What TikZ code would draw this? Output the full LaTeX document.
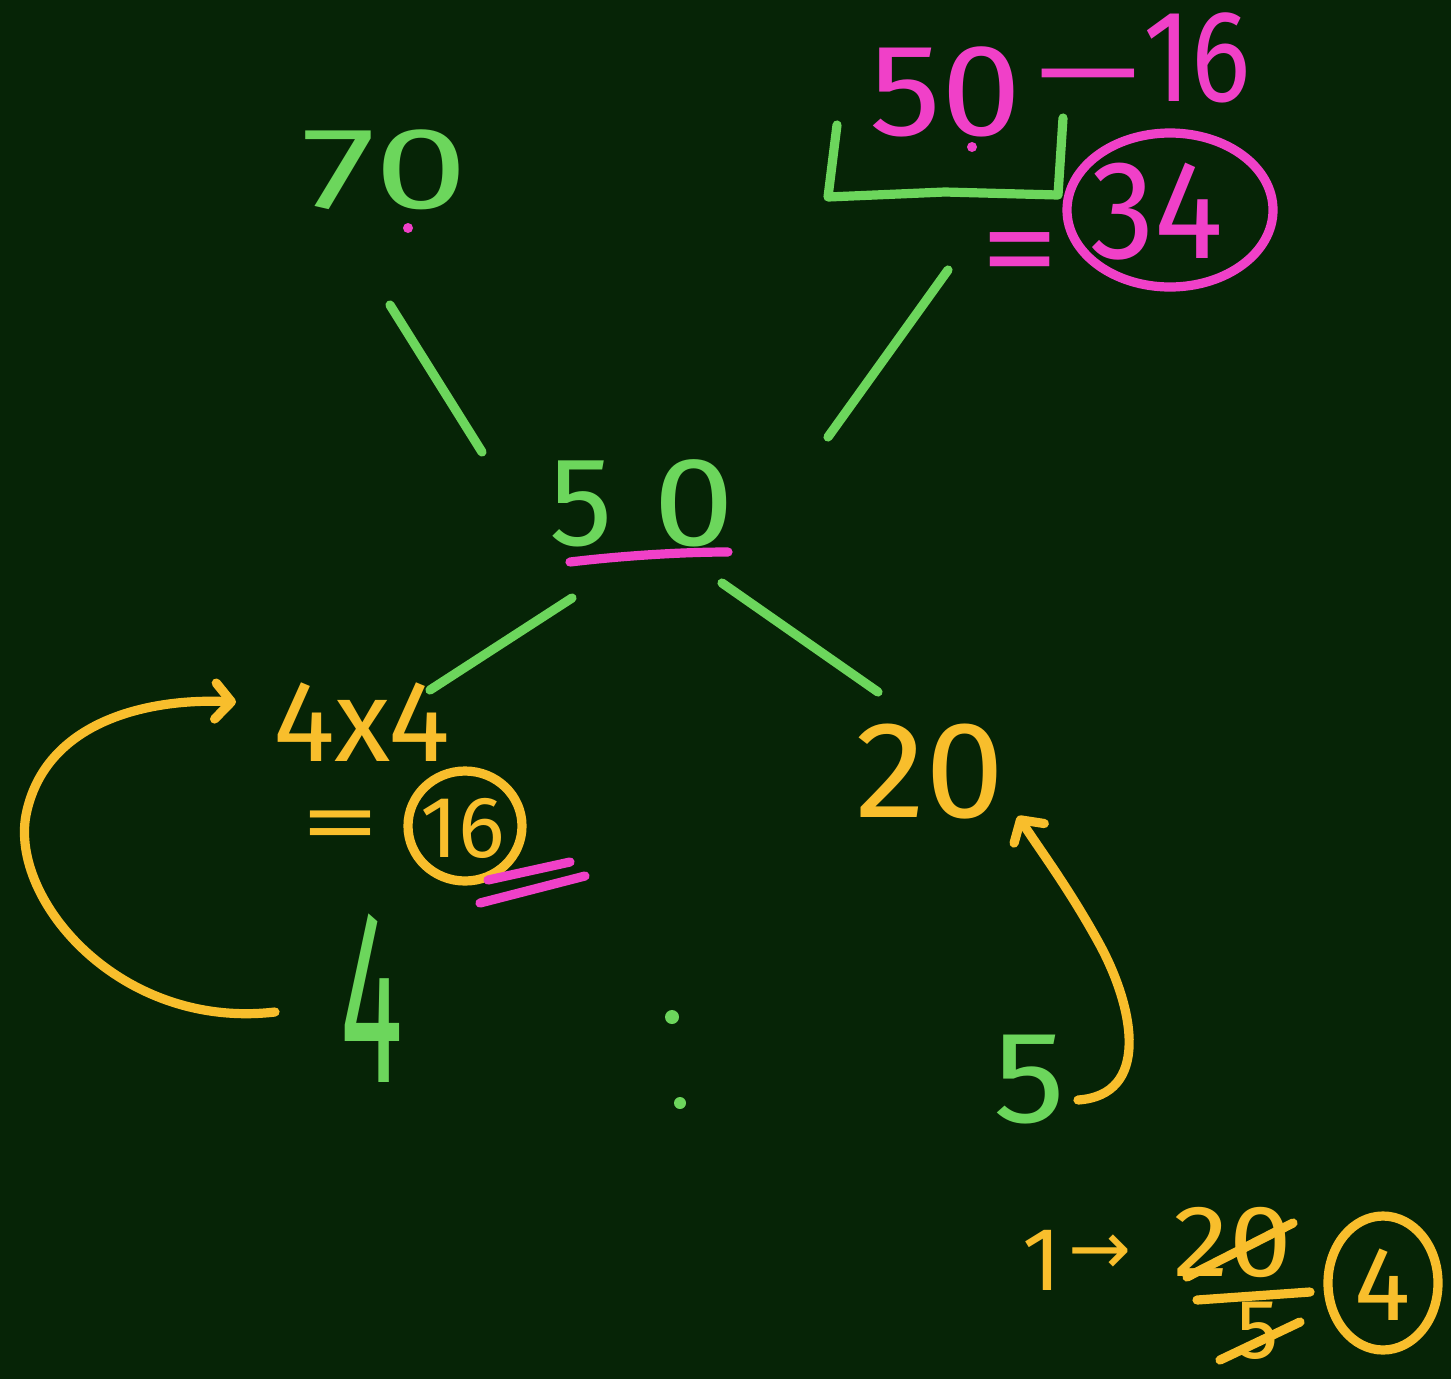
\documentclass[tikz,border=0pt]{standalone}
\usepackage{fontspec}
\setmainfont{Fira Sans}
\newfontfamily\dvfont{DejaVu Sans}
\usetikzlibrary{arrows.meta}
\definecolor{bg}{RGB}{6,36,6}
\definecolor{chgreen}{RGB}{108,214,92}
\definecolor{chpink}{RGB}{240,64,200}
\definecolor{chyellow}{RGB}{248,190,44}
\newcommand\fsz[1]{\fontsize{#1}{#1}\selectfont}
\begin{document}
\begin{tikzpicture}[x=0.5mm,y=-0.5mm,
  gline/.style={draw=chgreen, line width=4.6mm, line cap=round, line join=round},
  pline/.style={draw=chpink, line width=4.6mm, line cap=round, line join=round},
  yline/.style={draw=chyellow, line width=4.6mm, line cap=round, line join=round},
  lbl/.style={inner sep=0pt, outer sep=0pt},
  gtxt/.style={lbl, text=chgreen},
  ptxt/.style={lbl, text=chpink},
  ytxt/.style={lbl, text=chyellow},
  barb/.style={-{Straight Barb[length=8mm, width=18mm, round]}}
]
\fill[bg] (0,0) rectangle (1451,1379);
\useasboundingbox (0,0) rectangle (1451,1379);

% top left
\node[gtxt, font=\fsz{165}] (n70) at (385,170) {\scalebox{1.45}[1]{70}};
\fill[chpink] (408,228) circle (5);

% top right
\node[ptxt, font=\fsz{186}] (n50r) at (946,92) {\scalebox{1.1}[1]{50}};
\node[ptxt, font=\fsz{150}] (nminus) at (1088,88) {\scalebox{1.4}[1]{\dvfont −}};
\node[ptxt, font=\fsz{186}] (n16) at (1197,58) {\scalebox{0.85}[1]{16}};
\draw[gline] (837,125) -- (828,197) -- (945,192) -- (1058,195) -- (1063,118);
\fill[chpink] (972,147) circle (5);
\node[ptxt, font=\fsz{150}] (neqp) at (1020,262) {\scalebox{1.5}[1.2]{=}};
\node[ptxt, font=\fsz{200}] (n34) at (1157,212) {\scalebox{0.92}[1]{34}};
\draw[pline] (1170,210) ellipse [x radius=103, y radius=77];

% centre
\node[gtxt, font=\fsz{180}] (n50) at (642,503) {5\kern20mm \scalebox{1.15}[1]{0}};
\draw[pline] (570,562) .. controls (620,556) and (680,552) .. (728,552);

% connectors
\coordinate (c70s) at (390,305);
\coordinate (c50nw) at (482,452);
\coordinate (c50ne) at (828,437);
\coordinate (c34s) at (948,270);
\coordinate (c50sw) at (572,598);
\coordinate (c4x4) at (430,690);
\coordinate (c50se) at (722,583);
\coordinate (c20) at (878,692);
\draw[gline] (c70s) -- (c50nw);
\draw[gline] (c34s) -- (c50ne);
\draw[gline] (c50sw) -- (c4x4);
\draw[gline] (c50se) -- (c20);

% lower left
\node[ytxt, font=\fsz{165}] (n4x4) at (362,722) {4x4};
\node[ytxt, font=\fsz{130}] (neqy) at (340,832) {\scalebox{1.75}[1]{=}};
\node[ytxt, font=\fsz{124}] (n16b) at (463,828) {16};
\draw[yline] (465,826) ellipse [x radius=57, y radius=55];
\draw[pline] (488,880) -- (570,862);
\draw[pline] (480,903) -- (585,876);
\node[gtxt, font=\fsz{186}] (n4) at (372,998) {\scalebox{0.9}[1.9]{4}};
\coordinate (loopstart) at (275,1012);
\coordinate (loopend) at (236,702);
\draw[yline, barb] (loopstart) .. controls (120,1030) and (10,900) .. (26,815)
  .. controls (45,720) and (150,698) .. (loopend);

% colon
\fill[chgreen] (672,1017) circle (7);
\fill[chgreen] (680,1103) circle (6);

% lower right
\node[ytxt, font=\fsz{196}] (n20) at (930,772) {\scalebox{1.03}[1]{20}};
\node[gtxt, font=\fsz{186}] (n5) at (1030,1080) {\scalebox{1.1}[1]{5}};
\coordinate (arrstart) at (1078,1100);
\coordinate (arrend) at (1018,816);
\draw[yline, barb] (arrstart) .. controls (1150,1095) and (1135,1010) .. (1100,945)
  .. controls (1070,890) and (1040,850) .. (arrend);

% bottom right
\node[ytxt, font=\fsz{128}] (n1) at (1042,1260) {1};
\node[ytxt, font=\fsz{107}] (narr) at (1100,1255) {\dvfont →};
\node[ytxt, font=\fsz{145}] (n20s) at (1233,1242) {\scalebox{1.1}[1]{20}};
\draw[yline] (1187,1277) -- (1293,1223);
\draw[yline] (1197,1300) -- (1310,1292);
\node[ytxt, font=\fsz{120}] (n5s) at (1258,1331) {5};
\draw[yline] (1220,1360) -- (1300,1322);
\node[ytxt, font=\fsz{150}] (n4c) at (1383,1285) {4};
\draw[yline] (1383,1283) ellipse [x radius=55, y radius=67];
\end{tikzpicture}
\end{document}
